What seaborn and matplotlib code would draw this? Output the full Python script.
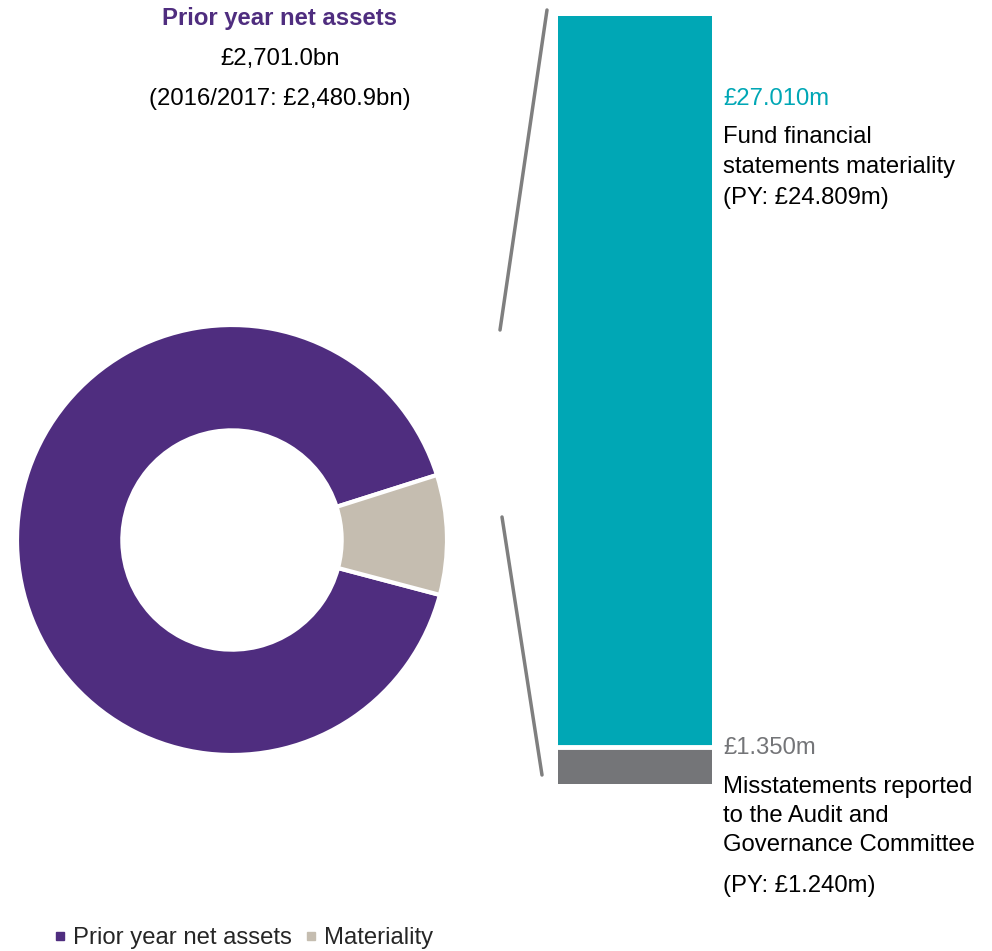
import matplotlib
matplotlib.use("Agg")
import matplotlib.pyplot as plt
import seaborn as sns
import pandas as pd
from matplotlib.lines import Line2D

# ---- data ----
donut_labels = ["Prior year net assets", "Materiality"]
donut_values = [91, 9]
bar_labels = ["Fund financial statements materiality",
              "Misstatements reported to the Audit and Governance Committee"]
bar_values = [27.010, 1.350]

PURPLE = "#4F2D7F"
BEIGE = "#C5BDB0"
TEAL = "#00A7B5"
GREY = "#747578"
LINE = "#7F7F7F"

sns.set_theme(style="white")
plt.rcParams["font.family"] = ["Liberation Sans", "DejaVu Sans"]

W, H = 992, 951
fig = plt.figure(figsize=(W / 100, H / 100), dpi=100)


def fx(x):
    return x / W


def fy(y):
    return 1 - y / H


# ---- donut ----
cx, cy, r = 232, 540, 215
axd = fig.add_axes([fx(cx - r), fy(cy + r), 2 * r / W, 2 * r / H])
axd.pie(donut_values, colors=[PURPLE, BEIGE], startangle=17.6,
        counterclock=True,
        wedgeprops=dict(width=0.49, edgecolor="white", linewidth=3))
axd.set_xlim(-1, 1)
axd.set_ylim(-1, 1)
axd.set_aspect("equal")
axd.axis("off")

# ---- stacked bar ----
bx0, bx1, by0, by1 = 558, 712, 16, 784
axb = fig.add_axes([fx(bx0), fy(by1), (bx1 - bx0) / W, (by1 - by0) / H])
total = sum(bar_values)
df_top = pd.DataFrame({"cat": ["m"], "val": [total]})
df_bot = pd.DataFrame({"cat": ["m"], "val": [bar_values[1]]})
sns.barplot(data=df_top, x="cat", y="val", color=TEAL, saturation=1,
            width=0.8, ax=axb, linewidth=0)
sns.barplot(data=df_bot, x="cat", y="val", color=GREY, saturation=1,
            width=0.8, ax=axb, linewidth=0)
axb.axhline(bar_values[1], color="white", linewidth=3.5)
axb.set_xlim(-0.4, 0.4)
axb.set_ylim(0, total)
axb.axis("off")

# ---- connector lines ----
for (x0, y0, x1, y1) in [(500, 330, 547, 10), (502, 517, 542, 775)]:
    fig.add_artist(Line2D([fx(x0), fx(x1)], [fy(y0), fy(y1)],
                          color=LINE, linewidth=2.5))

# ---- texts ----
FS = 17.2
fig.text(fx(280), fy(19), "Prior year net assets", color=PURPLE,
         fontsize=FS, fontweight="bold", ha="center", va="center")
fig.text(fx(280), fy(59), "£2,701.0bn", color="black", fontsize=FS,
         ha="center", va="center")
fig.text(fx(280), fy(99), "(2016/2017: £2,480.9bn)", color="black",
         fontsize=FS, ha="center", va="center")

tx = fx(723)
fig.text(tx, fy(99), "£27.010m", color=TEAL, fontsize=FS, va="center")
fig.text(tx, fy(137), "Fund financial", color="black", fontsize=FS, va="center")
fig.text(tx, fy(167), "statements materiality", color="black", fontsize=FS, va="center")
fig.text(tx, fy(198), "(PY: £24.809m)", color="black", fontsize=FS, va="center")

fig.text(tx, fy(748), "£1.350m", color=GREY, fontsize=FS, va="center")
fig.text(tx, fy(787), "Misstatements reported", color="black", fontsize=FS, va="center")
fig.text(tx, fy(816), "to the Audit and", color="black", fontsize=FS, va="center")
fig.text(tx, fy(845), "Governance Committee", color="black", fontsize=FS, va="center")
fig.text(tx, fy(886), "(PY: £1.240m)", color="black", fontsize=FS, va="center")

# ---- legend ----
handles = [Line2D([], [], marker="s", linestyle="none", markersize=5.5,
                  markerfacecolor=c, markeredgecolor=c)
           for c in [PURPLE, BEIGE]]
fig.legend(handles, donut_labels, loc="center left",
           bbox_to_anchor=(fx(44), fy(938)), ncol=2, frameon=False,
           fontsize=FS, handlelength=0.5, handletextpad=0.3,
           columnspacing=0.55, borderaxespad=0)

fig.savefig("out.png", dpi=100)
